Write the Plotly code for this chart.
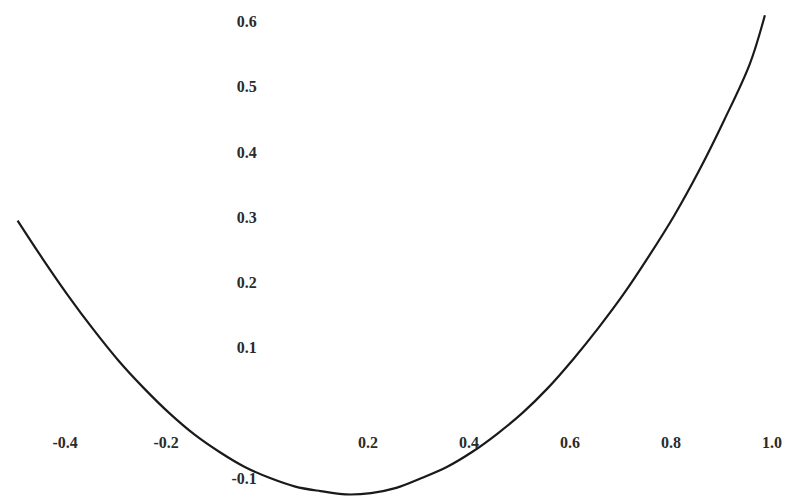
import plotly.graph_objects as go

# Values
x_vals = [-0.50, -0.45, -0.40, -0.35, -0.30, -0.25, -0.20, -0.15, -0.10, -0.05,
          0.00, 0.05, 0.10, 0.15, 0.20, 0.25, 0.30, 0.35, 0.40, 0.45,
          0.50, 0.55, 0.60, 0.65, 0.70, 0.75, 0.80, 0.85, 0.90, 0.95, 0.98]
y_vals = [0.295, 0.236, 0.180, 0.128, 0.080, 0.038, 0.000, -0.033, -0.060, -0.083,
          -0.100, -0.113, -0.120, -0.125, -0.123, -0.115, -0.100, -0.083, -0.060, -0.032,
          0.000, 0.038, 0.082, 0.130, 0.182, 0.240, 0.302, 0.372, 0.450, 0.535, 0.610]

x_ticks = [-0.4, -0.2, 0.2, 0.4, 0.6, 0.8, 1.0]
x_tick_text = ["-0.4", "-0.2", "0.2", "0.4", "0.6", "0.8", "1.0"]
y_ticks = [-0.1, 0.1, 0.2, 0.3, 0.4, 0.5, 0.6]
y_tick_text = ["-0.1", "0.1", "0.2", "0.3", "0.4", "0.5", "0.6"]

fig = go.Figure()
fig.add_trace(go.Scatter(
    x=x_vals, y=y_vals, mode="lines",
    line=dict(color="#1a1a1a", width=2.2, shape="spline", smoothing=1.0),
    hoverinfo="skip", showlegend=False, cliponaxis=False,
))

tick_font = dict(family="Liberation Serif", size=16, color="#2b2b2b", weight="bold")

fig.update_layout(
    width=784, height=489,
    margin=dict(l=0, r=0, t=0, b=0),
    paper_bgcolor="white", plot_bgcolor="white",
    showlegend=False,
    xaxis=dict(
        range=[-0.519, 1.0337],
        anchor="free", position=84 / 489,
        showline=False, zeroline=False, showgrid=False,
        tickvals=x_ticks, ticktext=x_tick_text,
        ticks="outside", ticklen=15, tickcolor="rgba(0,0,0,0)",
        ticklabelshift=-3,
        tickfont=tick_font, automargin=False, ticklabeloverflow="allow",
    ),
    yaxis=dict(
        range=[-0.129, 0.621],
        anchor="free", position=262 / 784,
        showline=False, zeroline=False, showgrid=False,
        tickvals=y_ticks, ticktext=y_tick_text,
        ticks="outside", ticklen=10, tickcolor="rgba(0,0,0,0)",
        tickfont=tick_font, automargin=False, ticklabeloverflow="allow",
    ),
)

fig.write_html("out.html")
